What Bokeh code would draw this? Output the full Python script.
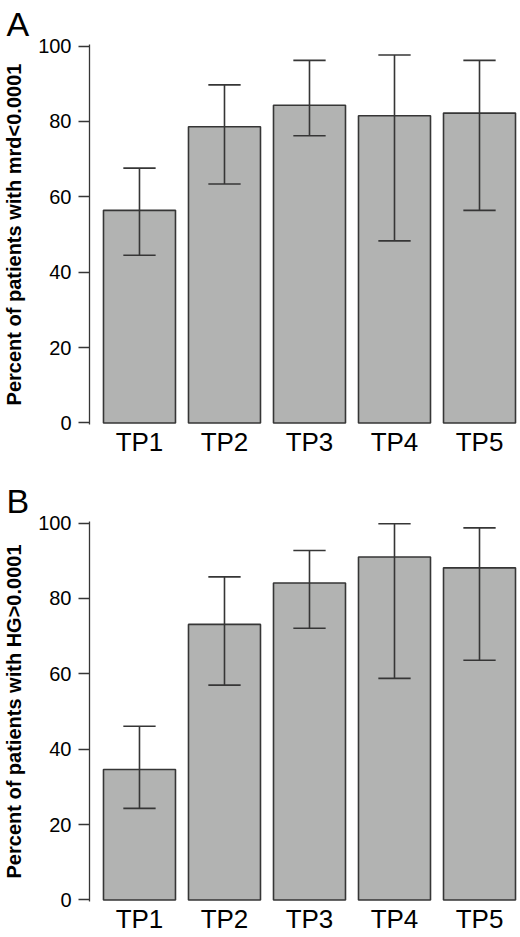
from bokeh.plotting import figure
from bokeh.models import Range1d, FixedTicker
from bokeh.layouts import column
from bokeh.embed import file_html
from bokeh.resources import INLINE

timepoints = ['TP1', 'TP2', 'TP3', 'TP4', 'TP5']
x_pos = [1, 2, 3, 4, 5]

# panel A: percent of patients with mrd<0.0001
mrd_pct = [56.4, 78.6, 84.3, 81.5, 82.2]
mrd_lower = [44.5, 63.4, 76.2, 48.3, 56.4]
mrd_upper = [67.6, 89.7, 96.2, 97.6, 96.2]

# panel B: percent of patients with HG>0.0001
hg_pct = [34.6, 73.1, 84.1, 91.0, 88.1]
hg_lower = [24.3, 57.0, 72.1, 58.8, 63.6]
hg_upper = [46.1, 85.7, 92.7, 99.8, 98.7]

y_ticks = [0, 20, 40, 60, 80, 100]

FONT = "Liberation Sans"
BAR_FILL = "#b2b3b2"
DARK = "#363636"
CAP = 0.19
X0, X1 = 0.412, 5.447


def make_panel(letter, ylabel, pct, lower, upper, title_gap, border_bottom):
    p = figure(frame_width=428, frame_height=380, output_backend="svg", toolbar_location=None,
               x_range=Range1d(X0, X1), y_range=Range1d(-0.4, 100.4),
               min_border_left=84, min_border_right=0,
               min_border_top=0, min_border_bottom=border_bottom)
    p.outline_line_color = None
    p.grid.grid_line_color = None
    p.background_fill_color = "white"

    # panel letter
    p.title.text = letter
    p.title.align = "left"
    p.title.offset = -83
    p.title.standoff = title_gap
    p.title.text_font = FONT
    p.title.text_font_style = "normal"
    p.title.text_font_size = "34px"
    p.title.text_color = "black"

    p.vbar(x=x_pos, top=pct, bottom=0, width=0.847, fill_color=BAR_FILL,
           line_color=DARK, line_width=1.6)

    # error bars
    p.segment(x0=x_pos, y0=lower, x1=x_pos, y1=upper, line_color=DARK, line_width=1.6)
    p.segment(x0=[x - CAP for x in x_pos], y0=upper, x1=[x + CAP for x in x_pos], y1=upper,
              line_color=DARK, line_width=1.6)
    p.segment(x0=[x - CAP for x in x_pos], y0=lower, x1=[x + CAP for x in x_pos], y1=lower,
              line_color=DARK, line_width=1.6)

    # x axis: just the names, like barplot
    p.xaxis.ticker = FixedTicker(ticks=x_pos)
    p.xaxis.major_label_overrides = {x: t for x, t in zip(x_pos, timepoints)}
    p.xaxis.axis_line_color = None
    p.xaxis.major_tick_line_color = None
    p.xaxis.major_tick_out = 0
    p.xaxis.major_tick_in = 0
    p.xaxis.minor_tick_line_color = None
    p.xaxis.major_label_standoff = 2
    p.xaxis.major_label_text_font = FONT
    p.xaxis.major_label_text_font_size = "26px"
    p.xaxis.major_label_text_color = "black"

    # y axis
    p.yaxis.ticker = FixedTicker(ticks=y_ticks)
    p.yaxis.axis_line_color = DARK
    p.yaxis.axis_line_width = 1.3
    p.yaxis.major_tick_line_color = DARK
    p.yaxis.major_tick_line_width = 1.3
    p.yaxis.major_tick_out = 11
    p.yaxis.major_tick_in = 0
    p.yaxis.minor_tick_line_color = None
    p.yaxis.major_label_standoff = 7
    p.yaxis.major_label_orientation = "horizontal"
    p.yaxis.major_label_text_font = FONT
    p.yaxis.major_label_text_font_size = "20px"
    p.yaxis.major_label_text_color = "black"
    p.yaxis.axis_label = ylabel
    p.yaxis.axis_label_text_font = FONT
    p.yaxis.axis_label_text_font_style = "bold"
    p.yaxis.axis_label_text_font_size = "20px"
    p.yaxis.axis_label_text_color = "black"
    p.yaxis.axis_label_standoff = 10
    return p


pa = make_panel("A", "Percent of patients with mrd<0.0001", mrd_pct, mrd_lower, mrd_upper, 4, 54)
pb = make_panel("B", "Percent of patients with HG>0.0001", hg_pct, hg_lower, hg_upper, 3, 33)

layout = column(pa, pb, spacing=0)

open("out.html", "w").write(file_html(layout, INLINE))
